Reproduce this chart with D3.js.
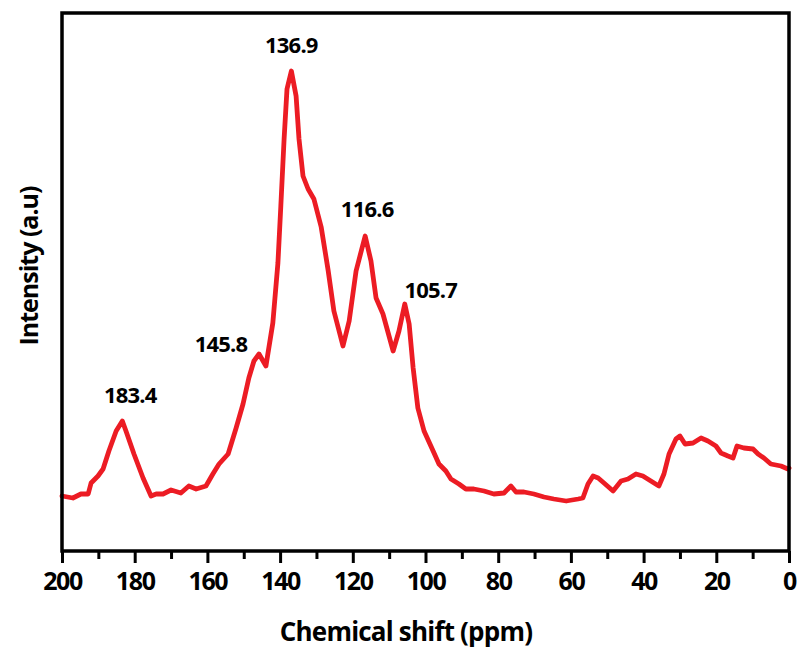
<!DOCTYPE html>
<html>
<head>
<meta charset="utf-8">
<script src="https://cdn.jsdelivr.net/npm/d3@7"></script>
<style>
  html, body { margin: 0; padding: 0; background: #fff; }
  svg { display: block; }
  text { font-family: "Open Sans", "Noto Sans", sans-serif; font-weight: 700; fill: #000; }
</style>
</head>
<body>
<svg id="chart" width="801" height="656"></svg>
<script>
// 13C solid-state NMR spectrum: chemical shift (ppm) vs intensity (a.u.)
const shiftPpm = [
  200.0, 197.0, 194.8, 192.8, 192.0, 190.1, 188.7, 187.1, 185.1, 183.4,
  182.4, 180.2, 177.7, 175.5, 174.1, 172.2, 170.0, 167.3, 165.1, 163.1,
  160.4, 158.5, 156.8, 154.3, 152.1, 150.2, 148.6, 147.2, 145.8, 143.9,
  142.0, 140.6, 139.8, 138.9, 138.1, 136.9, 135.6, 134.8, 133.7, 132.3,
  130.7, 128.7, 126.8, 125.2, 122.7, 121.0, 119.1, 116.6, 115.0, 113.6,
  111.7, 108.9, 107.3, 105.7, 104.5, 103.4, 102.1, 100.4, 97.9, 96.3,
  94.4, 93.0, 90.8, 88.9, 86.7, 83.9, 81.2, 78.4, 76.5, 75.1,
  72.9, 70.2, 67.4, 64.7, 61.3, 58.0, 56.7, 55.3, 53.9, 52.5,
  50.9, 48.4, 46.2, 44.3, 42.1, 40.2, 38.0, 35.8, 34.4, 33.0,
  31.1, 30.0, 28.6, 26.4, 24.2, 22.3, 20.1, 18.7, 16.8, 15.4,
  14.3, 12.4, 9.9, 8.5, 6.9, 5.0, 2.2, 0.3, 0.0
];
const intensity = [
  11.0, 10.6, 11.4, 11.4, 13.6, 15.0, 16.4, 20.0, 24.0, 26.0,
  24.0, 19.4, 14.6, 11.0, 11.4, 11.4, 12.2, 11.6, 13.0, 12.4,
  13.0, 15.4, 17.4, 19.4, 24.6, 29.4, 34.6, 38.0, 39.4, 37.0,
  45.6, 57.6, 69.0, 82.4, 92.4, 96.0, 91.0, 82.4, 75.0, 72.4,
  70.4, 64.8, 56.2, 48.0, 41.0, 46.0, 56.0, 63.0, 58.0, 50.6,
  47.4, 40.0, 44.0, 49.4, 45.4, 36.6, 28.6, 24.0, 20.0, 17.4,
  16.0, 14.4, 13.4, 12.4, 12.4, 12.0, 11.4, 11.6, 13.0, 11.8,
  11.8, 11.4, 10.8, 10.4, 10.0, 10.4, 10.6, 13.4, 15.0, 14.6,
  13.6, 12.0, 14.0, 14.4, 15.4, 15.0, 14.0, 13.0, 15.4, 19.4,
  22.4, 23.0, 21.4, 21.6, 22.6, 22.0, 21.0, 19.6, 19.0, 18.6,
  21.0, 20.6, 20.4, 19.4, 18.6, 17.4, 17.0, 16.4, 16.6
];
// Annotated peak positions (ppm)
const peakLabels = ["183.4", "145.8", "136.9", "116.6", "105.7"];
const peakLabelDx = [8, -38, 0, 2, 26];

const majorTicks = [200, 180, 160, 140, 120, 100, 80, 60, 40, 20, 0];
const minorTicks = [190, 170, 150, 130, 110, 90, 70, 50, 30, 10];

const xTitle = "Chemical shift (ppm)";
const yTitle = "Intensity (a.u)";

const data = shiftPpm.map((p, i) => ({ p, v: intensity[i] }));

const svg = d3.select("#chart");
const margin = { left: 62, right: 12, top: 13, bottom: 105 };
const W = 801, H = 656;
const x0 = margin.left, x1 = W - margin.right;
const y0 = H - margin.bottom, y1 = margin.top;

const x = d3.scaleLinear().domain([200, 0]).range([x0, x1]);
const y = d3.scaleLinear().domain([0, 107.6]).range([y0, y1]);

// Spectrum trace
const line = d3.line().x(d => x(d.p)).y(d => y(d.v)).curve(d3.curveLinear);
svg.append("path")
  .datum(data)
  .attr("d", line)
  .attr("fill", "none")
  .attr("stroke", "#ec1c24")
  .attr("stroke-width", 4.8)
  .attr("stroke-linejoin", "round")
  .attr("stroke-linecap", "round");

// Frame
svg.append("rect")
  .attr("x", x0).attr("y", y1)
  .attr("width", x1 - x0).attr("height", y0 - y1)
  .attr("fill", "none").attr("stroke", "#000").attr("stroke-width", 3.5);

// Bottom axis: major ticks with labels, minor ticks without
const xAxis = d3.axisBottom(x).tickValues(majorTicks).tickSize(12).tickPadding(9)
  .tickFormat(d3.format("d"));
const gx = svg.append("g").attr("transform", `translate(0,${y0})`).call(xAxis);
gx.select(".domain").remove();
gx.selectAll(".tick line").attr("stroke", "#000").attr("stroke-width", 3);
gx.selectAll(".tick text")
  .attr("font-size", 25).attr("letter-spacing", -1.4)
  .style("font-family", "'Open Sans', sans-serif").style("font-weight", 700)
  .attr("fill", "#000");

const gxm = svg.append("g").attr("transform", `translate(0,${y0})`)
  .call(d3.axisBottom(x).tickValues(minorTicks).tickSize(8).tickFormat(""));
gxm.select(".domain").remove();
gxm.selectAll(".tick line").attr("stroke", "#000").attr("stroke-width", 3);

// Peak annotations
const peakBaseline = { "183.4": 403, "145.8": 352, "136.9": 53, "116.6": 217, "105.7": 298 };
svg.append("g").selectAll("text")
  .data(peakLabels)
  .join("text")
  .attr("x", (d, i) => x(+d) + peakLabelDx[i])
  .attr("y", d => peakBaseline[d])
  .attr("text-anchor", "middle")
  .attr("font-size", 22)
  .attr("letter-spacing", -0.8)
  .text(d => d);

// Axis titles
svg.append("text")
  .attr("x", 406)
  .attr("y", 641)
  .attr("text-anchor", "middle")
  .attr("font-size", 26)
  .attr("letter-spacing", -0.8)
  .text(xTitle);

svg.append("text")
  .attr("transform", `translate(38,266) rotate(-90)`)
  .attr("text-anchor", "middle")
  .attr("font-size", 25)
  .attr("letter-spacing", -1)
  .text(yTitle);
</script>
</body>
</html>
